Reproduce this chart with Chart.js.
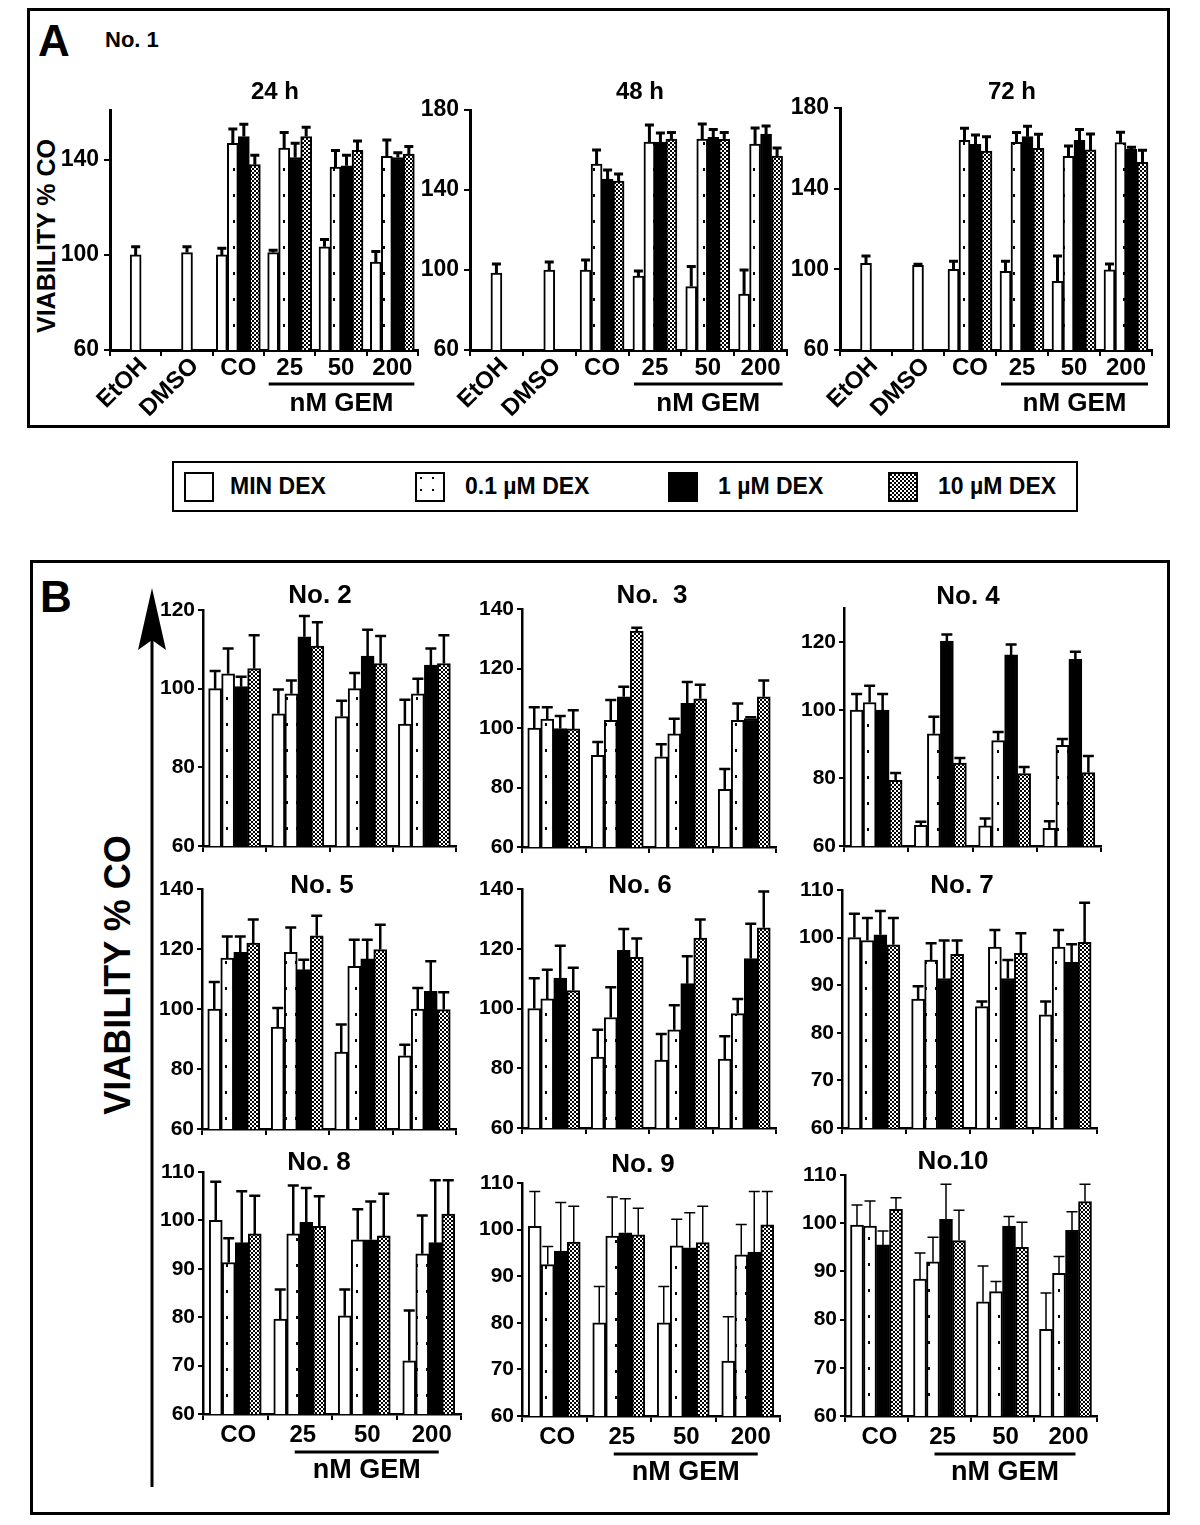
<!DOCTYPE html>
<html>
<head>
<meta charset="utf-8">
<script src="https://cdn.jsdelivr.net/npm/chart.js@4"></script>
<style>
  body { margin: 0; background: #fff; }
  #fig { position: relative; width: 1200px; height: 1525px; overflow: hidden;
         font-family: "Liberation Sans", Arial, sans-serif; font-weight: bold; color: #000; }
  .box { position: absolute; border: 3px solid #000; box-sizing: border-box; }
  .txt { position: absolute; white-space: nowrap; line-height: 1; }
  .rot { transform: translate(-50%, -50%) rotate(-90deg); }
  canvas { position: absolute; }
</style>
</head>
<body>
<div id="fig">
  <div class="box" style="left:27px;top:8px;width:1143px;height:420px"></div>
  <div class="txt" style="left:38px;top:19px;font-size:44px">A</div>
  <div class="txt" style="left:105px;top:29px;font-size:22px">No. 1</div>
  <div class="txt rot" style="left:46px;top:236px;font-size:25px">VIABILITY % CO</div>

  <div class="box" id="legend" style="left:172px;top:461px;width:906px;height:51px;border-width:2px"></div>

  <div class="box" style="left:30px;top:560px;width:1140px;height:955px"></div>
  <div class="txt" style="left:40px;top:575px;font-size:44px">B</div>
  <div class="txt rot" style="left:118px;top:975px;font-size:36px">VIABILITY % CO</div>
  <svg style="position:absolute;left:0;top:0" width="1200" height="1525">
    <line x1="152" y1="1487" x2="152" y2="640" stroke="#000" stroke-width="3"/>
    <polygon points="152,588 166,650 152,640 138,650" fill="#000"/>
  </svg>
</div>
<script>
// ---- data ----
const seriesNames = ['MIN DEX', '0.1 µM DEX', '1 µM DEX', '10 µM DEX'];
const catsA = ['EtOH', 'DMSO', 'CO', '25', '50', '200'];
const catsB = ['CO', '25', '50', '200'];
const ticksA24 = [60, 100, 140];
const ticksA = [60, 100, 140, 180];
const ticks120 = [60, 80, 100, 120];
const ticks140 = [60, 80, 100, 120, 140];
const ticks110 = [60, 70, 80, 90, 100, 110];

// rows: MIN DEX, 0.1, 1, 10 µM DEX ; *Err = top of error bar
const h24Mean = [
  [100, 101, 100, 101, 103.4, 97],
  [null, null, 147, 145, 137, 141.5],
  [null, null, 149.8, 141, 137.5, 141],
  [null, null, 138, 149.8, 144, 142.5]
];
const h24Err = [
  [103.5, 103.5, 102.8, 102, 106.5, 101.5],
  [null, null, 153, 151.5, 144, 148.4],
  [null, null, 155, 147, 142, 143],
  [null, null, 142, 153.7, 148, 145.6]
];
const h48Mean = [
  [98.5, 100, 100, 97, 91.7, 88],
  [null, null, 153, 164, 165.5, 163],
  [null, null, 145.5, 164, 166.3, 168],
  [null, null, 144.5, 165.5, 165.3, 157]
];
const h48Err = [
  [103, 104, 105, 99.5, 101.8, 100],
  [null, null, 160, 172.5, 173, 171],
  [null, null, 150, 168.5, 170.3, 172],
  [null, null, 148, 168.7, 168.7, 161]
];
const h72Mean = [
  [103, 102, 100, 99, 94, 99.7],
  [null, null, 164, 163, 156, 162.8],
  [null, null, 162, 165.8, 164, 159.5],
  [null, null, 158.7, 160, 159.2, 153]
];
const h72Err = [
  [106.6, 102.5, 104, 104, 106.6, 102.6],
  [null, null, 170, 167.8, 161.2, 168],
  [null, null, 166.6, 171, 169.4, 160.5],
  [null, null, 165.8, 167, 167.1, 159]
];

const no2Mean = [[100, 93.6, 92.9, 91], [103.8, 98.7, 100, 98.7], [100.5, 113.2, 108.3, 106], [105.1, 110.8, 106.4, 106.4]];
const no2Err  = [[104.5, 99.8, 96.9, 97.2], [110.2, 102.1, 104, 102.5], [103, 118.5, 115, 110.2], [113.6, 116.9, 113.4, 113.6]];
const no3Mean = [[100, 90.8, 90.3, 79.4], [103, 102.6, 98, 102.6], [99.8, 110.5, 108.3, 103.2], [99.7, 132.6, 109.8, 110.5]];
const no3Err  = [[107, 95.3, 94.5, 86.2], [107, 109.4, 103.1, 108.2], [104, 113.9, 115.5, 103.6], [106, 133.7, 114.5, 116]];
const no4Mean = [[100, 66.1, 65.9, 65.2], [102.2, 93, 91, 89.6], [100, 120.3, 116.2, 114.9], [79.3, 84.4, 81.3, 81.6]];
const no4Err  = [[104.7, 67.1, 68.1, 67.3], [107.1, 98, 93.5, 91.5], [104.7, 122.2, 119.3, 117.1], [81.5, 85.9, 83.2, 86.5]];
const no5Mean = [[100, 94, 85.6, 84.4], [117, 118.9, 114.2, 100], [118.9, 113.1, 116.7, 105.9], [122, 124.4, 119.8, 99.8]];
const no5Err  = [[109, 100.3, 94.8, 88.1], [124.2, 127.2, 123.1, 107], [124.2, 116.4, 123.1, 115.9], [129.8, 131.1, 128.1, 105.6]];
const no6Mean = [[100, 83.7, 82.7, 83.1], [103.2, 97, 92.9, 98.3], [110.2, 119.5, 108.3, 116.7], [106, 117.1, 123.6, 127]];
const no6Err  = [[110.1, 92.9, 91.5, 90.7], [113, 107.1, 101.1, 103.2], [121, 126.6, 117.5, 128.4], [113.6, 123.4, 129.8, 139.2]];
const no7Mean = [[100, 87.1, 85.5, 83.8], [99.4, 95.3, 98, 98], [100.6, 91.4, 91.4, 94.8], [98.5, 96.5, 96.7, 99]];
const no7Err  = [[105, 89.8, 86.6, 86.6], [104.1, 98.8, 101.6, 101.6], [105.6, 99.4, 95.3, 98.6], [104.1, 99.4, 100.9, 107.3]];
const no8Mean = [[100, 79.6, 80.3, 71], [91.3, 97.2, 96, 93.1], [95.4, 99.6, 96, 95.4], [97.2, 98.8, 96.8, 101.3]];
const no8Err  = [[108, 85.7, 85.7, 81.4], [96.3, 107.2, 102.3, 101], [106, 106.7, 103.9, 108.3], [105.1, 105, 105.5, 108.3]];
const no9Mean = [[100.7, 80, 80, 71.8], [92.5, 98.6, 96.5, 94.6], [95.4, 99.3, 96.1, 95.2], [97.3, 98.9, 97.2, 101]];
const no9Err  = [[108.2, 87.8, 87.8, 81.3], [96.4, 107, 102.2, 101.1], [105.8, 106.6, 103.6, 108.2], [105, 104.6, 105, 108.2]];
const no10Mean = [[99.6, 88.4, 83.7, 78], [99.4, 92, 85.8, 89.6], [95.5, 100.8, 99.4, 98.5], [102.9, 96.4, 95, 104.5]];
const no10Err  = [[103.8, 93.8, 91.1, 85.5], [104.6, 97.1, 87.9, 93.1], [98.4, 108.1, 101.4, 102.4], [105.3, 102.7, 100.2, 108.1]];

// ---- styles ----
Chart.defaults.font.family = '"Liberation Sans", Arial, sans-serif';
Chart.defaults.font.weight = 'bold';
Chart.defaults.color = '#000';

function makePattern(w, h, draw) {
  const c = document.createElement('canvas');
  c.width = w; c.height = h;
  const g = c.getContext('2d');
  g.fillStyle = '#fff'; g.fillRect(0, 0, w, h);
  g.fillStyle = '#000';
  draw(g);
  return g.createPattern(c, 'repeat');
}
const dotFill = makePattern(10, 26, g => g.fillRect(3, 12, 2, 3));
const checkFill = makePattern(4, 4, g => { g.fillRect(0, 0, 2, 2); g.fillRect(2, 2, 2, 2); });
const fills = ['#fff', dotFill, '#000', checkFill];

// error bars drawn from the y scale
const errBars = {
  id: 'errBars',
  afterDatasetsDraw(chart, args, o) {
    const { ctx, scales: { y } } = chart;
    ctx.save();
    ctx.strokeStyle = '#000';
    ctx.lineWidth = o.width;
    chart.data.datasets.forEach((ds, i) => {
      chart.getDatasetMeta(i).data.forEach((bar, j) => {
        if (ds.data[j] == null || ds.errTop[j] == null) return;
        const ye = y.getPixelForValue(ds.errTop[j]);
        const half = bar.width / 2 - 1;
        ctx.beginPath();
        ctx.moveTo(bar.x, bar.y);
        ctx.lineTo(bar.x, ye);
        ctx.moveTo(bar.x - half, ye);
        ctx.lineTo(bar.x + half, ye);
        ctx.stroke();
      });
    });
    ctx.restore();
  }
};

// panel title, placed at its own x (not always the plot centre)
const chartTitle = {
  id: 'chartTitle',
  afterDraw(chart, args, o) {
    const ctx = chart.ctx;
    ctx.save();
    ctx.fillStyle = '#000';
    ctx.font = `bold ${o.size}px "Liberation Sans", Arial, sans-serif`;
    ctx.textAlign = 'center';
    ctx.textBaseline = 'middle';
    ctx.fillText(o.text, o.x, o.y);
    ctx.restore();
  }
};

// category labels + "nM GEM" bracket
const catLabels = {
  id: 'catLabels',
  afterDraw(chart, args, o) {
    const { ctx, scales: { x }, chartArea } = chart;
    const labels = chart.data.labels;
    const b = chartArea.bottom;
    ctx.save();
    ctx.fillStyle = '#000';
    ctx.strokeStyle = '#000';
    ctx.font = `bold ${o.size}px "Liberation Sans", Arial, sans-serif`;
    ctx.textBaseline = 'middle';
    labels.forEach((lab, i) => {
      const px = x.getPixelForValue(i);
      if (o.rotated.includes(lab)) {
        ctx.save();
        ctx.translate(px + o.rotDx, b + o.rotDy);
        ctx.rotate(-Math.PI / 4);
        ctx.textAlign = 'right';
        ctx.fillText(lab, 0, 0);
        ctx.restore();
      } else {
        ctx.textAlign = 'center';
        ctx.fillText(lab, px + o.dx, b + o.dy);
      }
    });
    const xa = x.getPixelForValue(labels.indexOf('25')) + o.lineL;
    const xb = x.getPixelForValue(labels.indexOf('200')) + o.lineR;
    ctx.lineWidth = 3;
    ctx.beginPath();
    ctx.moveTo(xa, b + o.lineDy);
    ctx.lineTo(xb, b + o.lineDy);
    ctx.stroke();
    ctx.font = `bold ${o.gemSize}px "Liberation Sans", Arial, sans-serif`;
    ctx.textAlign = 'center';
    ctx.fillText('nM GEM', (xa + xb) / 2, b + o.gemDy);
    ctx.restore();
  }
};

const styleA = { yW: 60, xH: 80, fs: 24, tickFs: 23, bar: 11, errW: 3, axisW: 3, tickLen: 6, tickPad: 5 };
const styleB = { yW: 60, xH: 16, fs: 26, tickFs: 21, bar: 13, errW: 2.5, axisW: 2.5, tickLen: 5, tickPad: 3 };
const labelsA = { size: 24, dx: 0, dy: 18, rotated: ['EtOH', 'DMSO'], rotDx: 8, rotDy: 12, lineL: -21, lineR: 22, lineDy: 34, gemSize: 26, gemDy: 54 };
const labelsB = { size: 24, dx: 3, dy: 21, rotated: [], rotDx: 0, rotDy: 0, lineL: -5, lineR: 10, lineDy: 38, gemSize: 27, gemDy: 57 };

// x0/x1/y0/y1: plot edges; tx/ty: title centre
const charts = [
  { title: '24 h', cats: catsA, mean: h24Mean, err: h24Err, ticks: ticksA24, max: 161, x0: 110, x1: 418, y0: 110, y1: 350, tx: 275, ty: 92, st: styleA, lab: labelsA },
  { title: '48 h', cats: catsA, mean: h48Mean, err: h48Err, ticks: ticksA, max: 180, x0: 470, x1: 787, y0: 110, y1: 350, tx: 640, ty: 92, st: styleA, lab: labelsA },
  { title: '72 h', cats: catsA, mean: h72Mean, err: h72Err, ticks: ticksA, max: 180, x0: 840, x1: 1152, y0: 108, y1: 350, tx: 1012, ty: 92, st: styleA, lab: labelsA },
  { title: 'No. 2', cats: catsB, mean: no2Mean, err: no2Err, ticks: ticks120, max: 120, x0: 203, x1: 456, y0: 610, y1: 846, tx: 320, ty: 596, st: styleB },
  { title: 'No.  3', cats: catsB, mean: no3Mean, err: no3Err, ticks: ticks140, max: 140, x0: 522, x1: 776, y0: 609, y1: 847, tx: 652, ty: 596, st: styleB },
  { title: 'No. 4', cats: catsB, mean: no4Mean, err: no4Err, ticks: ticks120, max: 130, x0: 844, x1: 1101, y0: 608, y1: 846, tx: 968, ty: 597, st: styleB },
  { title: 'No. 5', cats: catsB, mean: no5Mean, err: no5Err, ticks: ticks140, max: 140, x0: 202, x1: 456, y0: 889, y1: 1129, tx: 322, ty: 886, st: styleB },
  { title: 'No. 6', cats: catsB, mean: no6Mean, err: no6Err, ticks: ticks140, max: 140, x0: 522, x1: 776, y0: 889, y1: 1128, tx: 640, ty: 886, st: styleB },
  { title: 'No. 7', cats: catsB, mean: no7Mean, err: no7Err, ticks: ticks110, max: 110, x0: 842, x1: 1097, y0: 890, y1: 1128, tx: 962, ty: 886, st: styleB },
  { title: 'No. 8', cats: catsB, mean: no8Mean, err: no8Err, ticks: ticks110, max: 110, x0: 203, x1: 461, y0: 1172, y1: 1414, tx: 319, ty: 1163, st: Object.assign({}, styleB, { xH: 80 }), lab: labelsB },
  { title: 'No. 9', cats: catsB, mean: no9Mean, err: no9Err, ticks: ticks110, max: 110, x0: 522, x1: 780, y0: 1183, y1: 1416, tx: 643, ty: 1165, st: Object.assign({}, styleB, { xH: 80, errW: 1.5 }), lab: labelsB },
  { title: 'No.10', cats: catsB, mean: no10Mean, err: no10Err, ticks: ticks110, max: 110, x0: 845, x1: 1097, y0: 1175, y1: 1416, tx: 953, ty: 1162, st: Object.assign({}, styleB, { xH: 80, errW: 1.5 }), lab: labelsB }
];

const fig = document.getElementById('fig');

charts.forEach(g => {
  const st = g.st;
  const cTop = Math.round(g.ty - st.fs / 2 - 2);
  const cLeft = g.x0 - st.yW;
  const cv = document.createElement('canvas');
  cv.width = g.x1 - cLeft + 2;
  cv.height = g.y1 - cTop + st.xH;
  cv.style.left = cLeft + 'px';
  cv.style.top = cTop + 'px';
  fig.appendChild(cv);

  const plugins = [errBars, chartTitle];
  if (g.lab) plugins.push(catLabels);

  new Chart(cv, {
    type: 'bar',
    data: {
      labels: g.cats,
      datasets: g.mean.map((vals, i) => ({
        label: seriesNames[i],
        data: vals,
        errTop: g.err[i],
        backgroundColor: fills[i],
        borderColor: '#000',
        borderWidth: 2,
        borderSkipped: false,
        barThickness: st.bar,
        skipNull: true
      }))
    },
    options: {
      responsive: false,
      animation: false,
      layout: { padding: { top: g.y0 - cTop, right: 2 } },
      plugins: {
        legend: { display: false },
        tooltip: { enabled: false },
        title: { display: false },
        chartTitle: { text: g.title, size: st.fs, x: g.tx - cLeft, y: g.ty - cTop },
        errBars: { width: st.errW },
        catLabels: g.lab || {}
      },
      scales: {
        x: {
          ticks: { display: false },
          grid: { display: true, drawOnChartArea: false, drawTicks: true, tickLength: 6, color: '#000', lineWidth: 2 },
          border: { display: true, color: '#000', width: st.axisW },
          afterFit: s => { s.height = st.xH; }
        },
        y: {
          min: 60, max: g.max,
          afterBuildTicks: s => { s.ticks = g.ticks.map(v => ({ value: v })); },
          afterFit: s => { s.width = st.yW; },
          ticks: { color: '#000', padding: st.tickPad, font: { size: st.tickFs, weight: 'bold' } },
          grid: { display: true, drawOnChartArea: false, drawTicks: true, tickLength: st.tickLen, color: '#000', lineWidth: 2 },
          border: { display: true, color: '#000', width: st.axisW }
        }
      }
    },
    plugins: plugins
  });
});

// legend
const legendItems = [
  { sw: 184, tx: 230 }, { sw: 415, tx: 465 }, { sw: 668, tx: 718 }, { sw: 888, tx: 938 }
];
legendItems.forEach((it, i) => {
  const c = document.createElement('canvas');
  c.width = 30; c.height = 30;
  c.style.left = it.sw + 'px'; c.style.top = '472px';
  const g = c.getContext('2d');
  g.fillStyle = i === 1 ? makePattern(12, 12, p => p.fillRect(5, 5, 2, 2)) : fills[i];
  g.fillRect(0, 0, 30, 30);
  g.strokeStyle = '#000'; g.lineWidth = 2;
  g.strokeRect(1, 1, 28, 28);
  fig.appendChild(c);
  const t = document.createElement('div');
  t.className = 'txt';
  t.style.cssText = `left:${it.tx}px;top:475px;font-size:23px`;
  t.textContent = seriesNames[i];
  fig.appendChild(t);
});
</script>
</body>
</html>
